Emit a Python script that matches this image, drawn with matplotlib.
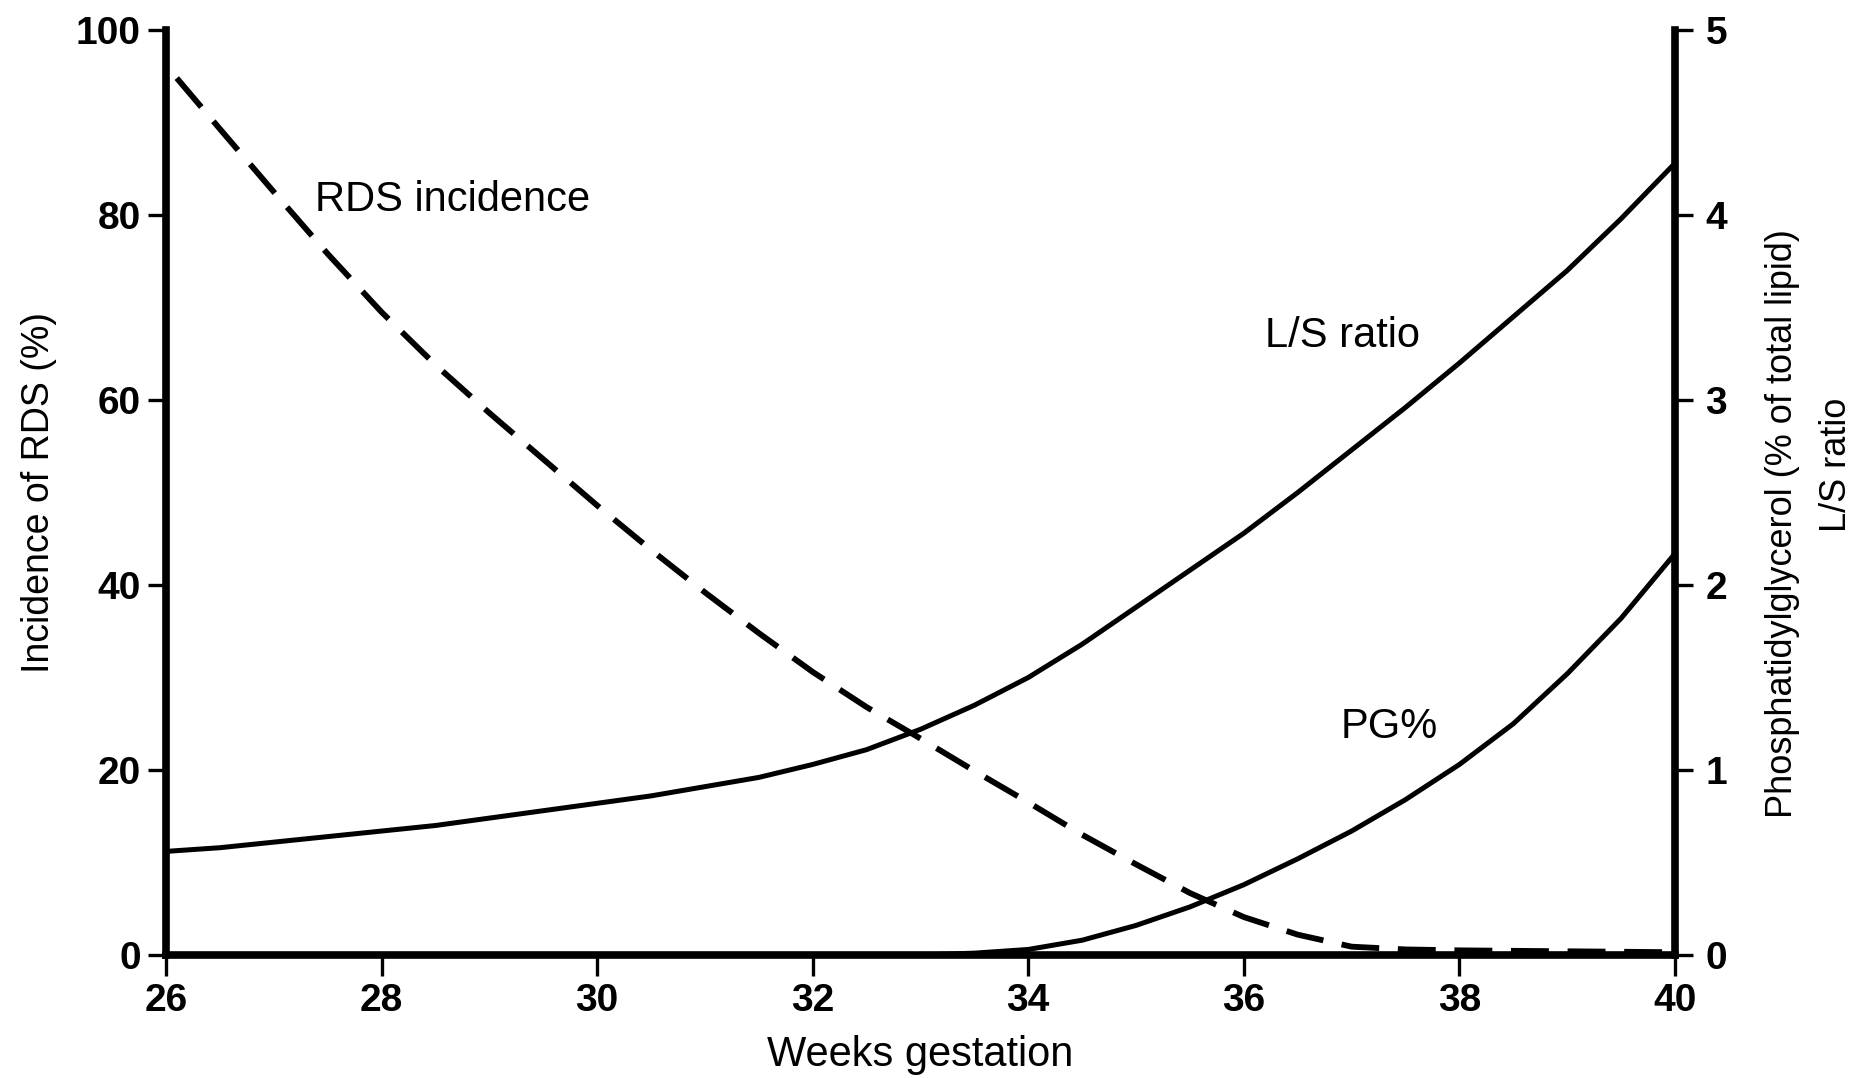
import matplotlib.pyplot as plt

plt.rcParams['font.family'] = ['Liberation Sans', 'DejaVu Sans']

# RDS incidence (%) against weeks of gestation
rds_weeks = [26.1, 26.5, 27, 27.5, 28, 28.5, 29, 29.5, 30, 30.5, 31, 31.5, 32,
             32.5, 33, 33.5, 34, 34.5, 35, 35.5, 36, 36.5, 37, 37.5, 38, 39, 40]
rds_pct = [94.8, 89.3, 82.5, 75.8, 69.5, 63.8, 58.6, 53.6, 48.6, 43.8, 39.2, 34.8, 30.6,
           26.8, 23.4, 19.9, 16.5, 13.0, 9.8, 6.7, 4.1, 2.2, 0.9, 0.6, 0.5, 0.4, 0.3]

# lecithin/sphingomyelin ratio
ls_weeks = [26, 26.5, 27, 27.5, 28, 28.5, 29, 29.5, 30, 30.5, 31, 31.5, 32, 32.5,
            33, 33.5, 34, 34.5, 35, 35.5, 36, 36.5, 37, 37.5, 38, 38.5, 39, 39.5, 40]
ls_ratio = [0.56, 0.58, 0.61, 0.64, 0.67, 0.70, 0.74, 0.78, 0.82, 0.86, 0.91, 0.96, 1.03, 1.11,
            1.22, 1.35, 1.50, 1.68, 1.88, 2.08, 2.28, 2.50, 2.73, 2.96, 3.20, 3.45, 3.70, 3.98, 4.28]

# phosphatidylglycerol (% of total lipid)
pg_weeks = [26, 28, 30, 32, 33, 33.5, 34, 34.5, 35, 35.5, 36, 36.5, 37, 37.5, 38, 38.5, 39, 39.5, 40]
pg_pct = [0.0, 0.0, 0.0, 0.0, 0.0, 0.01, 0.03, 0.08, 0.16, 0.26, 0.38, 0.52, 0.67, 0.84,
          1.03, 1.25, 1.52, 1.82, 2.17]

x_ticks = [26, 28, 30, 32, 34, 36, 38, 40]
left_ticks = [0, 20, 40, 60, 80, 100]
right_ticks = [0, 1, 2, 3, 4, 5]

fig = plt.figure(figsize=(18.63, 10.78), dpi=100)
ax = fig.add_axes([166 / 1863, 1 - 955 / 1078, 1509 / 1863, 925 / 1078])
ax2 = ax.twinx()

ax.plot(rds_weeks, rds_pct, color='black', lw=4.2, dashes=(6.5, 3.2), clip_on=False)
ax2.plot(ls_weeks, ls_ratio, color='black', lw=3.6, clip_on=False)
ax2.plot(pg_weeks, pg_pct, color='black', lw=3.6, clip_on=False)

ax.set_xlim(26, 40)
ax.set_ylim(0, 100)
ax2.set_ylim(0, 5)

ax.set_xticks(x_ticks)
ax.set_yticks(left_ticks)
ax2.set_yticks(right_ticks)

for a in (ax, ax2):
    a.spines['top'].set_visible(False)
    for s in a.spines.values():
        s.set_linewidth(5.5)
ax2.spines['left'].set_visible(False)
ax2.spines['bottom'].set_visible(False)
ax.spines['right'].set_visible(False)

ax.tick_params(axis='x', direction='out', length=15, width=2.4, pad=5, labelsize=28)
ax.tick_params(axis='y', direction='out', length=13, width=2.4, pad=5, labelsize=28)
ax2.tick_params(axis='y', direction='out', length=13, width=2.4, pad=9, labelsize=28)
for lab in ax.get_xticklabels() + ax.get_yticklabels() + ax2.get_yticklabels():
    lab.set_fontweight('bold')

ax.set_xlabel('Weeks gestation', fontsize=30, labelpad=12)
ax.set_ylabel('Incidence of RDS (%)', fontsize=27, labelpad=14)

fig.text(1782 / 1863, 1 - 524 / 1078, 'Phosphatidylglycerol (% of total lipid)',
         rotation=90, ha='center', va='center', fontsize=26)
fig.text(1836 / 1863, 1 - 465 / 1078, 'L/S ratio',
         rotation=90, ha='center', va='center', fontsize=26)

ax.text(27.38, 81.6, 'RDS incidence', fontsize=30, ha='left', va='center')
ax.text(36.2, 66.9, 'L/S ratio', fontsize=30, ha='left', va='center')
ax.text(36.9, 24.6, 'PG%', fontsize=30, ha='left', va='center')

fig.savefig('out.png', dpi=100)
